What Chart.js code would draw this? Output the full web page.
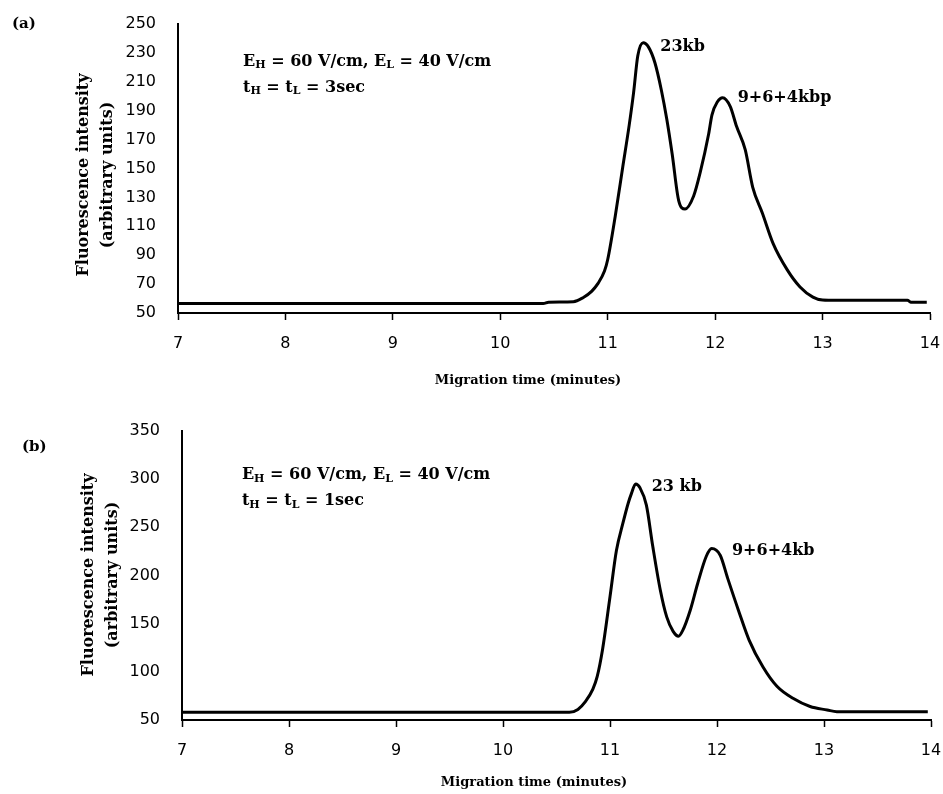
<!DOCTYPE html>
<html>
<head>
<meta charset="utf-8">
<script src="https://cdn.jsdelivr.net/npm/chart.js@4"></script>
<style>
  html, body { margin: 0; padding: 0; background: #fff; }
  #wrap { position: relative; width: 943px; height: 794px; }
  canvas { position: absolute; left: 0; }
  #runA { top: 0; }
  #runB { top: 397px; }
</style>
</head>
<body>
<div id="wrap">
  <canvas id="runA" width="943" height="397"></canvas>
  <canvas id="runB" width="943" height="397"></canvas>
</div>
<script>
// run (a): 3 s pulses
const timesA = [7.0, 10.4, 10.45, 10.68, 10.77, 10.85, 10.91, 10.97, 11.0, 11.07, 11.14, 11.2, 11.24, 11.28,
  11.33, 11.38, 11.44, 11.5, 11.55, 11.6, 11.66, 11.72, 11.8, 11.86, 11.94, 11.97, 12.02, 12.07, 12.14,
  12.2, 12.28, 12.35, 12.44, 12.54, 12.67, 12.79, 12.91, 13.0, 13.13, 13.79, 13.82, 13.97];
const intensityA = [56.5, 56.5, 57.5, 57.8, 60.6, 65, 70.5, 79, 87, 117, 151, 180, 202, 228,
  237, 234, 223, 204, 184, 160, 128, 122, 131, 147, 174, 187, 196, 199, 193,
  179, 163, 137, 119, 98, 80, 68, 61, 59, 58.8, 58.8, 57.5, 57.5];

// run (b): 1 s pulses
const timesB = [7.0, 10.62, 10.7, 10.77, 10.84, 10.88, 10.93, 11.0, 11.06, 11.12, 11.17, 11.2, 11.24, 11.28,
  11.34, 11.4, 11.47, 11.53, 11.59, 11.64, 11.68, 11.75, 11.82, 11.9, 11.95, 12.03, 12.1, 12.2,
  12.3, 12.43, 12.56, 12.71, 12.87, 13.03, 13.12, 13.97];
const intensityB = [58, 58, 61, 69, 82, 95, 123, 178, 226, 254, 275, 285, 295, 291,
  273, 230, 185, 157, 142, 137, 143, 164, 192, 220, 228, 221, 197, 164,
  133, 105, 85, 72.5, 64, 60.4, 58.6, 58.6];

const xTicks = [7, 8, 9, 10, 11, 12, 13, 14];
const yTicksA = [50, 70, 90, 110, 130, 150, 170, 190, 210, 230, 250];
const yTicksB = [50, 100, 150, 200, 250, 300, 350];

const peakLabelsA = ['23kb', '9+6+4kbp'];
const peakLabelsB = ['23 kb', '9+6+4kb'];

const TICK_FONT = { family: 'DejaVu Sans', size: 16 };

// text with subscripts: parts are [text, isSub]
function drawRich(ctx, parts, x, y) {
  ctx.textAlign = 'left';
  ctx.textBaseline = 'middle';
  for (const [txt, sub] of parts) {
    ctx.font = sub ? 'bold 11px "DejaVu Serif"' : 'bold 16px "DejaVu Serif"';
    ctx.fillText(txt, x, sub ? y + 4 : y);
    x += ctx.measureText(txt).width;
  }
}

const captions = {
  id: 'captions',
  afterDraw(chart, args, opts) {
    const { ctx, scales: { x, y } } = chart;
    ctx.save();
    ctx.fillStyle = '#000';

    // panel letter
    ctx.font = 'bold 15px "DejaVu Serif"';
    ctx.textAlign = 'left';
    ctx.textBaseline = 'middle';
    ctx.fillText(opts.panel, opts.panelX, opts.panelY);

    // y title, two rotated lines
    ctx.save();
    ctx.translate(opts.yTitleX, opts.yTitleY);
    ctx.rotate(-Math.PI / 2);
    ctx.font = 'bold 16px "DejaVu Serif"';
    ctx.textAlign = 'center';
    ctx.fillText('Fluorescence intensity', 0, 0);
    ctx.fillText('(arbitrary units)', 0, 24);
    ctx.restore();

    // x title
    ctx.font = 'bold 13px "DejaVu Serif"';
    ctx.textAlign = 'center';
    ctx.fillText('Migration time (minutes)', opts.xTitleX, opts.xTitleY);

    // run conditions
    const nx = x.getPixelForValue(opts.noteAt[0]);
    drawRich(ctx, [['E', 0], ['H', 1], [' = 60 V/cm, E', 0], ['L', 1], [' = 40 V/cm', 0]],
      nx, y.getPixelForValue(opts.noteAt[1]));
    drawRich(ctx, [['t', 0], ['H', 1], [' = t', 0], ['L', 1], [' = ' + opts.pulse, 0]],
      nx, y.getPixelForValue(opts.noteAt[2]));

    // peak names
    ctx.font = 'bold 16px "DejaVu Serif"';
    ctx.textAlign = 'left';
    opts.peaks.forEach((p) => {
      ctx.fillText(p.text, x.getPixelForValue(p.x), y.getPixelForValue(p.y));
    });
    ctx.restore();
  }
};

function makeRun(id, times, values, yTicks, area, cap) {
  const yMin = yTicks[0], yMax = yTicks[yTicks.length - 1];
  return new Chart(document.getElementById(id), {
    type: 'line',
    data: {
      datasets: [{
        data: times.map((t, i) => ({ x: t, y: values[i] })),
        borderColor: '#000',
        borderWidth: 3,
        pointRadius: 0,
        cubicInterpolationMode: 'monotone',
        fill: false,
      }],
    },
    options: {
      responsive: false,
      animation: false,
      layout: { padding: { left: 0, top: area.top, right: 943 - area.right, bottom: 0 } },
      plugins: {
        legend: { display: false },
        tooltip: { enabled: false },
        captions: cap,
      },
      scales: {
        x: {
          type: 'linear',
          min: xTicks[0],
          max: xTicks[xTicks.length - 1],
          afterBuildTicks: (s) => { s.ticks = xTicks.map((v) => ({ value: v })); },
          afterFit: (s) => {
            s.height = 397 - area.bottom;
            s.paddingLeft = 0;
            s.paddingRight = 0;
          },
          grid: { drawOnChartArea: false, tickLength: 7, color: '#000', tickWidth: 1.5 },
          border: { color: '#000', width: 2 },
          ticks: { color: '#000', font: TICK_FONT, padding: 14, maxRotation: 0 },
        },
        y: {
          min: yMin,
          max: yMax,
          afterBuildTicks: (s) => { s.ticks = yTicks.map((v) => ({ value: v })); },
          afterFit: (s) => { s.width = area.left; },
          grid: { display: false },
          border: { color: '#000', width: 2 },
          ticks: { color: '#000', font: TICK_FONT, padding: 14 },
        },
      },
    },
    plugins: [captions],
  });
}

makeRun('runA', timesA, intensityA, yTicksA, { left: 178, right: 930, top: 24, bottom: 313 }, {
  panel: '(a)', panelX: 12, panelY: 24,
  yTitleX: 84, yTitleY: 175,
  xTitleX: 528, xTitleY: 381,
  noteAt: [7.605, 224, 206], pulse: '3sec',
  peaks: [{ text: peakLabelsA[0], x: 11.49, y: 234 }, { text: peakLabelsA[1], x: 12.21, y: 199 }],
});

makeRun('runB', timesB, intensityB, yTicksB, { left: 182, right: 931, top: 34, bottom: 323 }, {
  panel: '(b)', panelX: 22, panelY: 50,
  yTitleX: 89, yTitleY: 178,
  xTitleX: 534, xTitleY: 386,
  noteAt: [7.56, 304, 277], pulse: '1sec',
  peaks: [{ text: peakLabelsB[0], x: 11.39, y: 292 }, { text: peakLabelsB[1], x: 12.14, y: 226 }],
});
</script>
</body>
</html>
